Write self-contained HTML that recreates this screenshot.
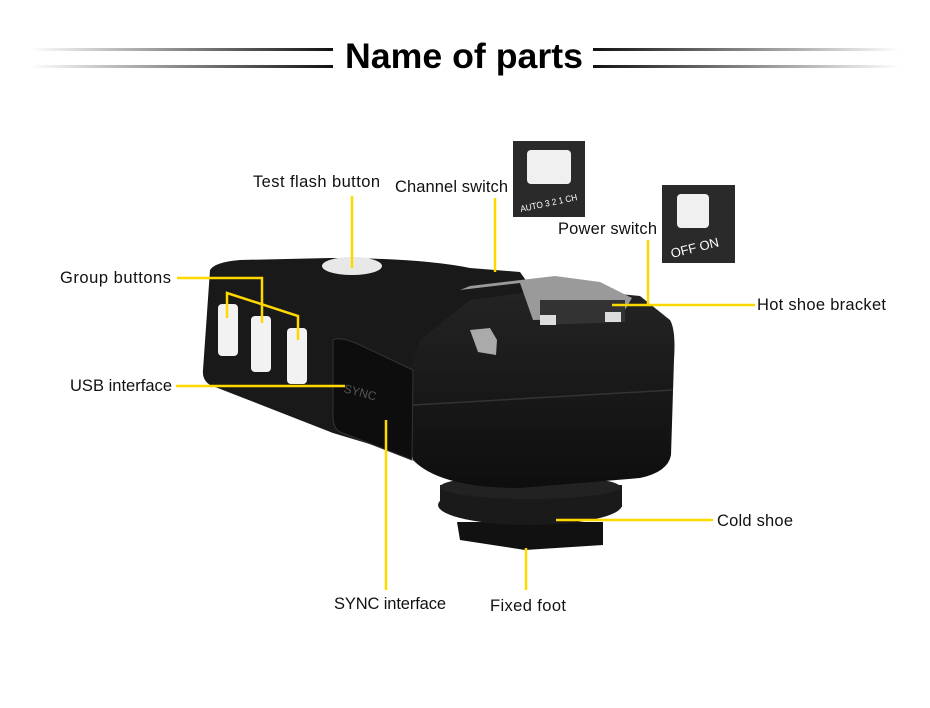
<!DOCTYPE html>
<html><head><meta charset="utf-8"><style>
html,body{margin:0;padding:0;background:#fff}
svg{display:block}
text{font-family:"Liberation Sans",sans-serif}
</style></head><body>
<svg width="930" height="708" viewBox="0 0 930 708" xmlns="http://www.w3.org/2000/svg">
<defs>
<linearGradient id="gl" x1="0" x2="1"><stop offset="0" stop-color="#fff"/><stop offset="1" stop-color="#111"/></linearGradient>
<linearGradient id="gr" x1="1" x2="0"><stop offset="0" stop-color="#fff"/><stop offset="1" stop-color="#111"/></linearGradient>
<linearGradient id="body" x1="0" y1="0" x2="0" y2="1"><stop offset="0" stop-color="#242424"/><stop offset="1" stop-color="#0e0e0e"/></linearGradient>
</defs>
<rect x="30" y="48" width="303" height="3" fill="url(#gl)"/>
<rect x="30" y="65" width="303" height="3" fill="url(#gl)"/>
<rect x="593" y="48" width="307" height="3" fill="url(#gr)"/>
<rect x="593" y="65" width="307" height="3" fill="url(#gr)"/>
<text x="345" y="68" font-size="35" font-weight="bold" textLength="238" lengthAdjust="spacingAndGlyphs" fill="#000">Name of parts</text>

<!-- foot -->
<path d="M457,522 L603,522 L603,545 L525,550 L460,540 Z" fill="#111"/>
<ellipse cx="530" cy="505" rx="92" ry="20" fill="#1a1a1a"/>
<rect x="440" y="485" width="182" height="22" fill="#1a1a1a"/>
<ellipse cx="530" cy="487" rx="90" ry="12" fill="#222"/>
<!-- left body -->
<path d="M210,270 Q215,262 240,260 L330,258 Q420,258 470,268 L520,272 L540,300 L500,330 L420,350 L413,457 L333,433 L210,385 Q202,380 203,370 Z" fill="#191919"/>
<!-- right body -->
<path d="M470,300 L560,288 L640,296 L670,320 Q676,330 674,360 L671,455 Q668,472 640,478 L520,488 Q440,488 413,460 L405,390 L420,340 Z" fill="url(#body)"/>
<path d="M413,405 L673,390" stroke="#333" stroke-width="1.5"/>
<!-- test button -->
<ellipse cx="352" cy="266" rx="30" ry="9" fill="#e8e8e8"/>
<!-- hot shoe bracket -->
<path d="M460,290 L520,283 L533,320 L620,318 L632,298 L600,282 L555,276 L470,286 Z" fill="#9a9a9a"/>
<path d="M540,300 L625,300 L625,322 L540,325 Z" fill="#333"/>
<rect x="540" y="315" width="16" height="10" fill="#ddd"/><rect x="605" y="312" width="16" height="10" fill="#ddd"/>
<path d="M470,330 L490,328 L497,340 L496,355 L478,352 Z" fill="#aaa"/>
<!-- SYNC cover -->
<path d="M333,340 Q340,336 360,345 L413,370 L412,460 L340,432 Q332,428 333,410 Z" fill="#0d0d0d" stroke="#333"/>
<text x="343" y="392" font-size="12" fill="#555" transform="rotate(15 343 392)">SYNC</text>
<!-- group buttons -->
<rect x="218" y="304" width="20" height="52" rx="4" fill="#f2f2f2"/>
<rect x="251" y="316" width="20" height="56" rx="4" fill="#f2f2f2"/>
<rect x="287" y="328" width="20" height="56" rx="4" fill="#f2f2f2"/>

<!-- insets -->
<rect x="513" y="141" width="72" height="76" fill="#2a2a2a"/>
<rect x="527" y="150" width="44" height="34" rx="4" fill="#f0f0f0"/>
<text x="521" y="212" font-size="9" fill="#fff" transform="rotate(-12 521 212)" textLength="58" lengthAdjust="spacingAndGlyphs">AUTO 3 2 1 CH</text>
<rect x="662" y="185" width="73" height="78" fill="#2a2a2a"/>
<rect x="677" y="194" width="32" height="34" rx="4" fill="#f0f0f0"/>
<text x="672" y="258" font-size="13" fill="#fff" transform="rotate(-14 672 258)">OFF ON</text>

<!-- connectors -->
<g stroke="#ffd800" stroke-width="2.5" fill="none">
<path d="M352,196 V268"/>
<path d="M495,198 V272"/>
<path d="M648,240 V305"/>
<path d="M612,305 H755"/>
<path d="M177,278 H262 V323"/>
<path d="M227,318 V293 L298,316 V340"/>
<path d="M176,386 H345"/>
<path d="M386,420 V590"/>
<path d="M526,548 V590"/>
<path d="M556,520 H713"/>
</g>

<g font-size="16.5" fill="#111" lengthAdjust="spacingAndGlyphs">
<text x="253" y="187" textLength="127">Test flash button</text>
<text x="395" y="192" textLength="113">Channel switch</text>
<text x="558" y="234" textLength="99">Power switch</text>
<text x="757" y="310" textLength="129">Hot shoe bracket</text>
<text x="60" y="283" textLength="111">Group buttons</text>
<text x="70" y="391" textLength="102">USB interface</text>
<text x="717" y="526" textLength="76">Cold shoe</text>
<text x="334" y="609" textLength="112">SYNC interface</text>
<text x="490" y="611" textLength="76">Fixed foot</text>
</g>
</svg>
</body></html>
